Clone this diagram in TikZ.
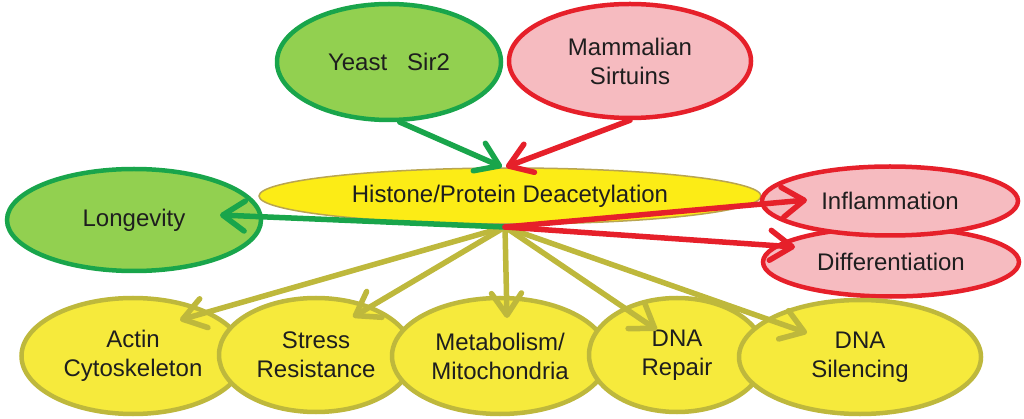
\documentclass[tikz,border=0pt]{standalone}
\usepackage{fontspec}
\setmainfont{Liberation Sans}
\usetikzlibrary{shapes.geometric,arrows.meta}
\definecolor{gfill}{RGB}{146,208,80}
\definecolor{gline}{RGB}{25,165,75}
\definecolor{rfill}{RGB}{246,187,192}
\definecolor{rline}{RGB}{230,32,42}
\definecolor{hfill}{RGB}{252,236,22}
\definecolor{hline}{RGB}{185,165,80}
\definecolor{yfill}{RGB}{246,234,60}
\definecolor{oline}{RGB}{190,184,60}
\definecolor{txt}{RGB}{30,30,30}
\begin{document}
\begin{tikzpicture}[x=1pt,y=-1pt,
  ell/.style={ellipse, inner sep=0pt, line width=4.5pt, align=center,
    font=\fontsize{24}{29}\selectfont, text=txt},
  gnode/.style={ell, draw=gline, fill=gfill},
  rnode/.style={ell, draw=rline, fill=rfill},
  ynode/.style={ell, draw=oline, fill=yfill},
  hnode/.style={ell, draw=hline, fill=hfill, line width=1.5pt},
  arr/.style={line width=5.5pt, line cap=round,
    -{Straight Barb[length=22pt,width=30pt,round]}},
  garr/.style={arr, draw=gline},
  rarr/.style={arr, draw=rline},
  oarr/.style={arr, draw=oline}]
\useasboundingbox (0,0) rectangle (1024,419);

% top and middle nodes
\node[gnode, minimum width=224pt, minimum height=116pt] (yeast) at (389,62) {Yeast\ \ \ Sir2};
\node[rnode, minimum width=242pt, minimum height=114pt] (mam) at (630,61) {Mammalian\\Sirtuins};
\node[hnode, minimum width=502pt, minimum height=56pt] (hist) at (510,196) {Histone/Protein Deacetylation};
\node[gnode, minimum width=254pt, minimum height=102pt] (long) at (134,220) {Longevity};
\node[rnode, minimum width=256pt, minimum height=69pt] (diff) at (891,262) {Differentiation};
\node[rnode, minimum width=256pt, minimum height=69pt] (infl) at (890,201) {Inflammation};

% bottom nodes
\node[ynode, minimum width=223pt, minimum height=116pt] (actin) at (133,356) {Actin\\Cytoskeleton};
\node[ynode, minimum width=194pt, minimum height=114pt] (stress) at (316,355) {Stress\\Resistance};
\node[ynode, minimum width=216pt, minimum height=116pt] (meta) at (500,356) {Metabolism/\\Mitochondria};
\node[ynode, minimum width=176pt, minimum height=114pt] (repair) at (677,355) {DNA\\Repair};
\node[ynode, minimum width=242pt, minimum height=114pt] (silen) at (860,357) {DNA\\Silencing};

% connector points
\coordinate (hub) at (505,227);
\coordinate (topin) at (502,167);
\coordinate (tLong) at (220,215);
\coordinate (tInfl) at (807,200);
\coordinate (tDiff) at (795,247);
\coordinate (tAct) at (180,320);
\coordinate (tStr) at (353,317);
\coordinate (tMet) at (507,318);
\coordinate (tRep) at (657,330);
\coordinate (tSil) at (807,333);

% olive arrows
\draw[oarr] (hub) -- (tAct);
\draw[oarr] (hub) -- (tStr);
\draw[oarr] (hub) -- (tMet);
\draw[oarr] (hub) -- (tRep);
\draw[oarr] (hub) -- (tSil);

% green arrows
\draw[garr] (yeast.-80) -- (topin);
\draw[garr] (hub) -- (tLong);

% red arrows
\draw[rarr] (mam.south) -- ([xshift=4pt]topin);
\draw[rarr] (hub) -- (tInfl);
\draw[rarr] (hub) -- (tDiff);
\end{tikzpicture}
\end{document}
